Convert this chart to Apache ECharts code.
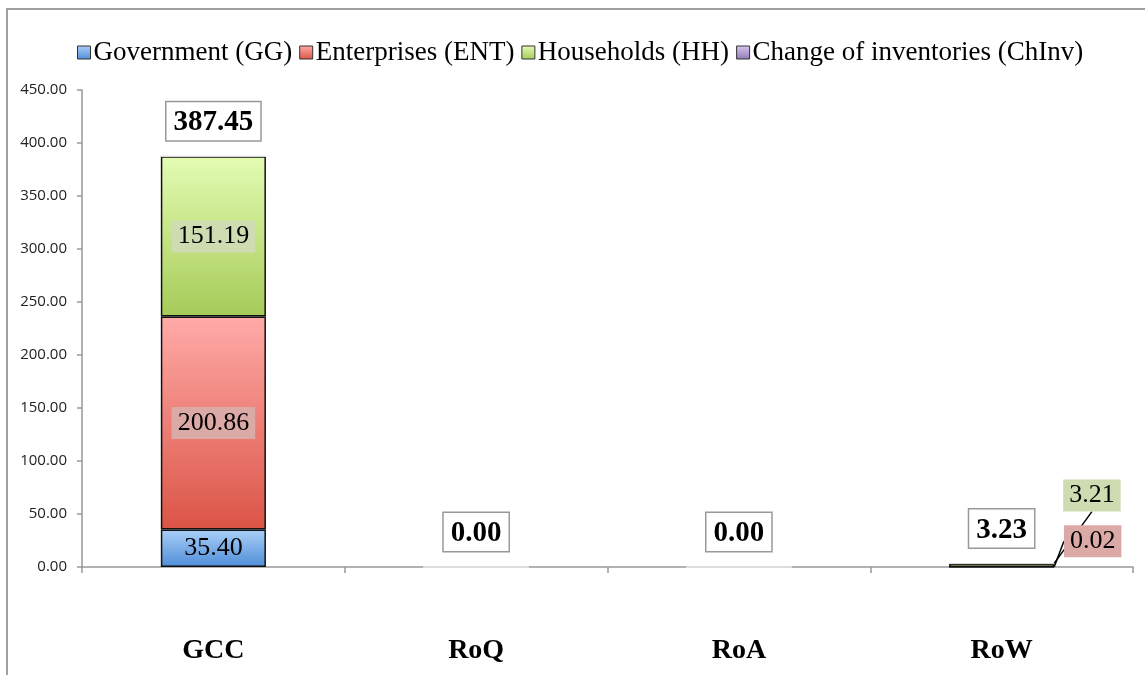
<!DOCTYPE html>
<html>
<head>
<meta charset="utf-8">
<script src="https://cdn.jsdelivr.net/npm/echarts@6/dist/echarts.min.js"></script>
<style>
  html, body { margin: 0; padding: 0; background: #fff; }
  #chart { width: 1145px; height: 675px; }
</style>
</head>
<body>
<div id="chart"></div>
<script>
var categories = ['GCC', 'RoQ', 'RoA', 'RoW'];
var seriesNames = ['Government (GG)', 'Enterprises (ENT)', 'Households (HH)', 'Change of inventories (ChInv)'];
var govValues = [35.40, 0, 0, 0];
var entValues = [200.86, 0, 0, 0.02];
var hhValues = [151.19, 0, 0, 3.21];
var chinvValues = [0, 0, 0, 0];
var totals = [387.45, 0.00, 0.00, 3.23];
var yTicks = { min: 0, max: 450, step: 50 };

var serif = '"Liberation Serif", "Times New Roman", serif';

function grad(top, bottom) {
    return new echarts.graphic.LinearGradient(0, 0, 0, 1, [
        { offset: 0, color: top },
        { offset: 1, color: bottom }
    ]);
}

var fills = [
    grad('#abcff7', '#4e8ed8'),
    grad('#ffaba8', '#db5446'),
    grad('#e3fcb3', '#a6cb58'),
    grad('#d6c8ee', '#9379b8')
];
var labelBg = [null, '#dcaaa6', '#cfdbb0', null];

// RoW labels sit outside the thin bar, pushed right of it, with a slanted leader line
function moveOutside(offsetY, lineFrom, lineRise) {
    return function (params) {
        if (params.dataIndex !== 3) return {};
        var r = params.rect;
        var right = r.x + r.width;
        return {
            x: right + 9,
            y: r.y + offsetY,
            labelLinePoints: [
                [right - lineFrom, r.y - 2],
                [right - lineFrom + lineRise * 0.45, r.y - lineRise],
                [right - lineFrom + lineRise * 0.45, r.y - lineRise]
            ]
        };
    };
}

function stackSeries(idx, values) {
    var s = {
        name: seriesNames[idx],
        type: 'bar',
        stack: 'total',
        barWidth: '40%',
        itemStyle: { color: fills[idx], borderColor: '#111', borderWidth: 1.5 },
        label: {
            fontFamily: serif,
            fontSize: 26,
            color: '#000',
            position: 'inside',
            padding: [3, 6],
            backgroundColor: labelBg[idx] || 'transparent',
            formatter: function (p) { return p.value.toFixed(2); }
        },
        labelLine: { show: true, lineStyle: { color: '#000', width: 1.5 } },
        data: values.map(function (v) {
            var item = { value: v, label: { show: v > 0 } };
            if (v === 0) item.itemStyle = { borderColor: '#ddd', borderWidth: 1 };
            return item;
        })
    };
    if (idx === 1) s.labelLayout = moveOutside(-41, 2, 24);
    if (idx === 2) s.labelLayout = moveOutside(-84, 21, 54);
    return s;
}

var chart = echarts.init(document.getElementById('chart'));
chart.setOption({
    backgroundColor: '#fff',
    animation: false,
    graphic: [{
        type: 'rect',
        shape: { x: 7, y: 9, width: 1300, height: 800 },
        style: { fill: 'none', stroke: '#a0a0a0', lineWidth: 2 },
        silent: true
    }],
    legend: {
        data: seriesNames,
        icon: 'rect',
        left: 72,
        top: 34,
        itemWidth: 13,
        itemHeight: 13,
        itemGap: 7,
        itemStyle: { borderColor: '#333', borderWidth: 1 },
        textStyle: { fontFamily: serif, fontSize: 27, color: '#000', padding: [0, 0, 0, -2] }
    },
    grid: { left: 82, right: 12, top: 90, bottom: 108 },
    xAxis: {
        type: 'category',
        data: categories,
        axisLine: { lineStyle: { color: '#999', width: 1.5 } },
        axisTick: { show: true, length: 6, lineStyle: { color: '#999', width: 1.5 } },
        axisLabel: { fontFamily: serif, fontSize: 28, fontWeight: 'bold', color: '#000', margin: 70 }
    },
    yAxis: {
        type: 'value',
        min: yTicks.min,
        max: yTicks.max,
        interval: yTicks.step,
        axisLine: { show: true, lineStyle: { color: '#999', width: 1.5 } },
        axisTick: { show: true, length: 5, lineStyle: { color: '#999', width: 1.5 } },
        splitLine: { show: false },
        axisLabel: {
            fontFamily: '"Open Sans", sans-serif',
            fontSize: 15,
            color: '#222',
            margin: 15,
            formatter: function (v) { return v.toFixed(2); }
        }
    },
    series: [
        stackSeries(0, govValues),
        stackSeries(1, entValues),
        stackSeries(2, hhValues),
        stackSeries(3, chinvValues),
        {
            name: 'Total',
            type: 'scatter',
            symbolSize: 0,
            itemStyle: { opacity: 1 },
            data: totals,
            label: {
                show: true,
                position: 'top',
                distance: 16,
                fontFamily: serif,
                fontSize: 29,
                fontWeight: 'bold',
                color: '#000',
                opacity: 1,
                backgroundColor: '#fff',
                borderColor: '#999',
                borderWidth: 1.5,
                padding: [6, 7, 3, 7],
                formatter: function (p) { return p.value.toFixed(2); }
            }
        }
    ]
});
</script>
</body>
</html>
